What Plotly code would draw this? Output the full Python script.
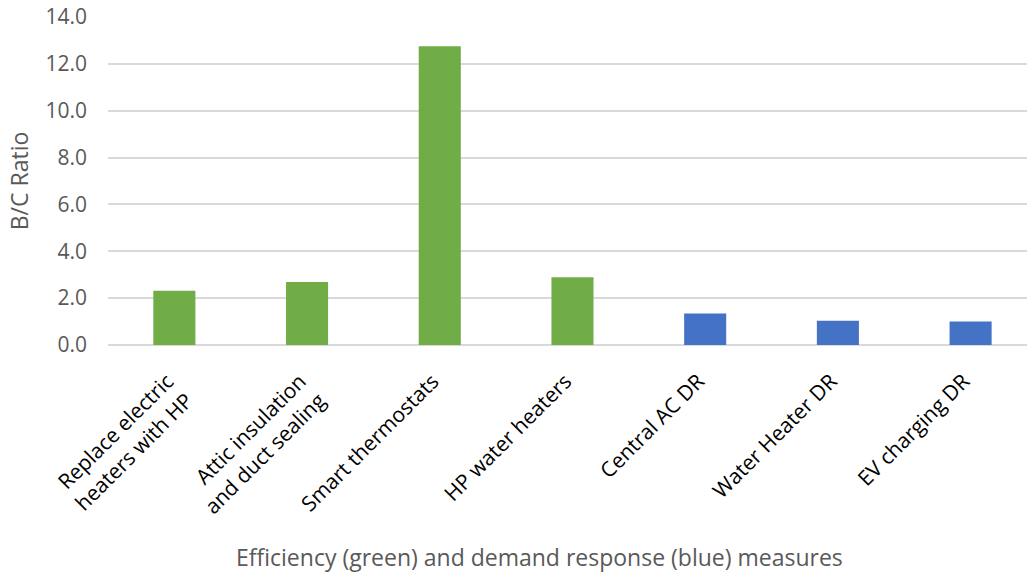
import plotly.graph_objects as go

categories = [
    "Replace electric<br>heaters with HP",
    "Attic insulation<br>and duct sealing",
    "Smart thermostats",
    "HP water heaters",
    "Central AC DR",
    "Water Heater DR",
    "EV charging DR",
]
values = [2.32, 2.69, 12.75, 2.89, 1.34, 1.04, 1.0]
groups = ["eff", "eff", "eff", "eff", "dr", "dr", "dr"]
y_ticks = [0, 2, 4, 6, 8, 10, 12, 14]
x_title = "Efficiency (green) and demand response (blue) measures"

group_colors = {"eff": "#70AD47", "dr": "#4472C4"}
bar_colors = [group_colors[g] for g in groups]

FONT = "Open Sans"

fig = go.Figure(
    go.Bar(
        x=categories,
        y=values,
        marker=dict(color=bar_colors, line=dict(width=0)),
        showlegend=False,
    )
)

fig.update_layout(
    width=1028,
    height=573,
    margin=dict(l=108, r=1, t=17, b=228),
    paper_bgcolor="white",
    plot_bgcolor="white",
    bargap=0.683,
    font=dict(family=FONT, size=21, color="#595959"),
    annotations=[
        dict(
            text=x_title,
            xref="paper",
            yref="paper",
            x=0.47,
            y=-0.646,
            xanchor="center",
            yanchor="middle",
            showarrow=False,
            font=dict(family=FONT, size=23, color="#595959"),
        )
    ],
)

fig.update_xaxes(
    range=[-0.5, 6.425],
    tickangle=-45,
    tickfont=dict(family=FONT, size=21, color="#000000"),
    ticklabelstandoff=19,
    ticklabelshift=-7,
    showline=False,
    ticks="",
    automargin=False,
)

fig.update_yaxes(
    range=[0, 14],
    tickvals=y_ticks,
    tickformat=".1f",
    showgrid=True,
    gridcolor="#D9D9D9",
    gridwidth=1.5,
    zeroline=True,
    zerolinecolor="#D9D9D9",
    zerolinewidth=1.5,
    ticks="",
    ticklabelstandoff=20,
    tickfont=dict(family=FONT, size=21, color="#595959"),
    title=dict(text="B/C Ratio", font=dict(family=FONT, size=23, color="#595959"), standoff=10),
    automargin=False,
)

fig.write_html(
    "out.html",
    config={"displayModeBar": False},
    post_script="document.body.style.margin='0';",
)
